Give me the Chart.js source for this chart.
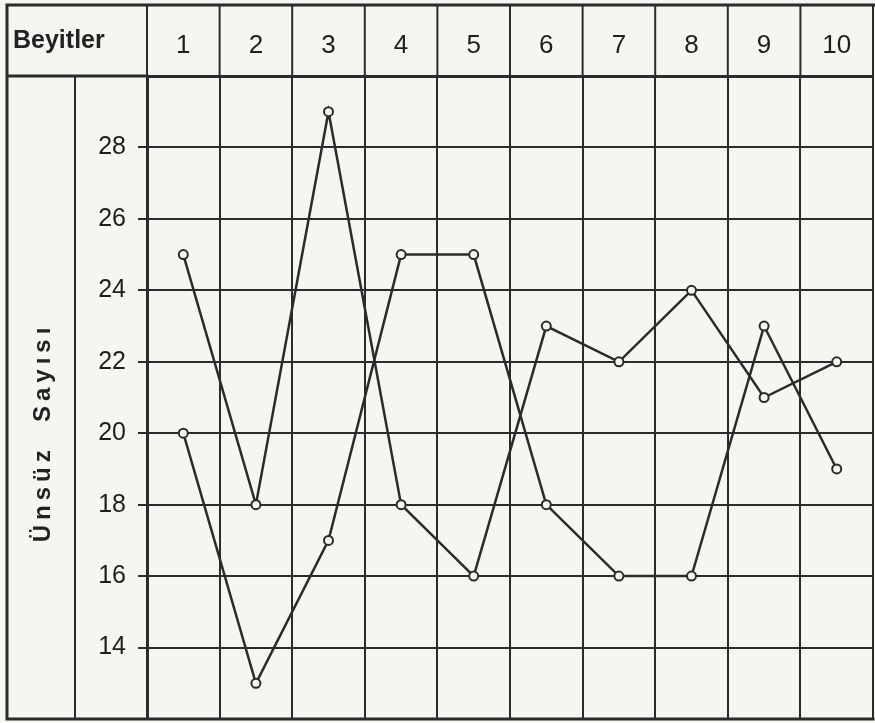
<!DOCTYPE html>
<html>
<head>
<meta charset="utf-8">
<script src="https://cdn.jsdelivr.net/npm/chart.js@4.4.1/dist/chart.umd.min.js"></script>
<style>
  html, body { margin: 0; padding: 0; background: #f6f5f1; overflow: hidden; }
  canvas { display: block; }
</style>
</head>
<body>
<canvas id="grafik" width="875" height="723"></canvas>
<script>
// Beyitlere göre ünsüz sayısı
const beyitler = ["1", "2", "3", "4", "5", "6", "7", "8", "9", "10"];
const seriA = [25, 18, 29, 18, 16, 23, 22, 24, 21, 22];
const seriB = [20, 13, 17, 25, 25, 18, 16, 16, 23, 19];
const eksenMin = 12;
const eksenMax = 30;
const adim = 2;

const kalem = "#2b2b2b";
const kagit = "#f6f5f1";

// tablo cizgileri, baslik hucresi ve dikey eksen yazisi
const tabloCizgileri = {
  id: "tablo",
  afterDraw(chart) {
    const ctx = chart.ctx;
    const ca = chart.chartArea;
    const x = chart.scales.x;
    const y = chart.scales.y;
    const sol = y.left + 1;
    const ust = x.top;
    const ortaSutun = (sol + ca.left) / 2 - 2;

    ctx.save();
    ctx.strokeStyle = kalem;
    ctx.lineCap = "square";

    ctx.lineWidth = 3;
    ctx.beginPath();
    ctx.moveTo(sol, ust); ctx.lineTo(chart.width, ust);
    ctx.moveTo(sol, ust); ctx.lineTo(sol, ca.bottom);
    ctx.moveTo(sol, ca.top); ctx.lineTo(ca.left, ca.top);
    ctx.moveTo(sol, ca.bottom); ctx.lineTo(ca.right, ca.bottom);
    ctx.stroke();

    ctx.lineWidth = 2;
    ctx.beginPath();
    ctx.moveTo(ortaSutun, ca.top); ctx.lineTo(ortaSutun, ca.bottom);
    for (let i = 0; i <= beyitler.length; i++) {
      const px = x.getPixelForValue(i - 0.5);
      ctx.moveTo(px, ust); ctx.lineTo(px, ca.top);
    }
    ctx.stroke();

    ctx.fillStyle = "#222";
    ctx.font = "bold 25px 'Liberation Sans', sans-serif";
    ctx.textBaseline = "middle";
    ctx.textAlign = "left";
    ctx.fillText("Beyitler", sol + 6, (ust + ca.top) / 2 + 1);

    ctx.translate((sol + ortaSutun) / 2 + 2, (ca.top + ca.bottom) / 2 + 35);
    ctx.rotate(-Math.PI / 2);
    ctx.textAlign = "center";
    ctx.font = "bold 24px 'Liberation Sans', sans-serif";
    ctx.letterSpacing = "5px";
    ctx.fillText("Ünsüz  Sayısı", 0, 0);
    ctx.restore();
  }
};

new Chart(document.getElementById("grafik"), {
  type: "line",
  data: {
    labels: beyitler,
    datasets: [
      { label: "A", data: seriA },
      { label: "B", data: seriB }
    ]
  },
  options: {
    responsive: false,
    animation: false,
    layout: { autoPadding: false, padding: { top: 5, left: 6, right: 2, bottom: 4 } },
    elements: {
      line: { borderColor: kalem, borderWidth: 2.5, tension: 0 },
      point: { radius: 4.5, borderWidth: 2, borderColor: kalem, backgroundColor: kagit }
    },
    plugins: {
      legend: { display: false },
      tooltip: { enabled: false }
    },
    scales: {
      x: {
        position: "top",
        offset: true,
        afterFit(scale) { scale.height = 71; },
        grid: { offset: true, color: kalem, lineWidth: 2, drawTicks: false },
        border: { color: kalem, width: 3 },
        ticks: { color: "#1e1e1e", padding: 15, font: { size: 26, family: "'Liberation Sans', sans-serif" } }
      },
      y: {
        min: eksenMin,
        max: eksenMax,
        afterFit(scale) {
          scale.width = 141;
          scale.paddingTop = 0;
          scale.paddingBottom = 0;
        },
        grid: { color: kalem, lineWidth: 2, tickLength: 9 },
        border: { color: kalem, width: 3 },
        ticks: {
          stepSize: adim,
          color: "#1e1e1e",
          padding: 12,
          font: { size: 25, family: "'Liberation Sans', sans-serif" },
          // 12 ve 30 kenar cizgileri, etiketsiz
          callback: v => (v === eksenMin || v === eksenMax) ? null : v
        }
      }
    }
  },
  plugins: [tabloCizgileri]
});
</script>
</body>
</html>
